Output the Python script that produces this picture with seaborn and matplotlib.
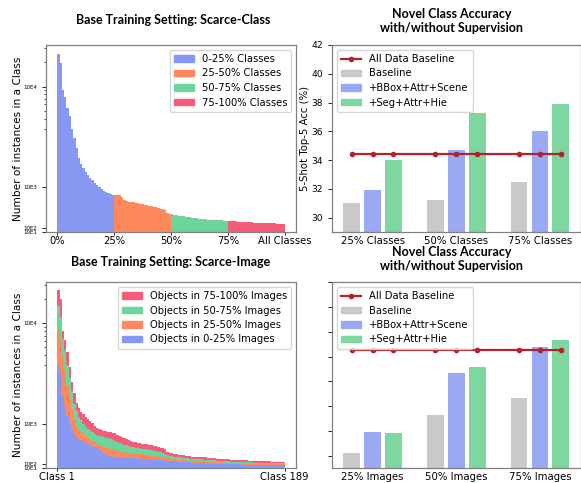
import numpy as np
import pandas as pd
import matplotlib
matplotlib.use("Agg")
import matplotlib.pyplot as plt
import matplotlib.ticker as mticker
from matplotlib.patches import Patch
from matplotlib.lines import Line2D
import seaborn as sns

# ---- top-left: instances per class (sorted), split by class quartile ----
q1_counts = [25800, 19800, 9000, 7400, 5400, 4300, 3000, 2300, 1880, 1660, 1520, 1430, 1345,
             1280, 1210, 1160, 1100, 1050, 1005, 960, 925, 890, 865, 845, 830]
q2_counts = [828, 828, 828, 777, 716, 700, 679, 671, 664, 655, 643, 634, 626,
             612, 598, 581, 576, 560, 553, 538, 522, 508, 486, 432, 410]
q3_counts = [396, 380, 374, 365, 358, 351, 342, 336, 329, 320, 313, 306, 297,
             292, 292, 284, 275, 275, 268, 268, 268, 263, 263, 254, 254]
q4_counts = [254, 247, 247, 239, 230, 230, 223, 223, 218, 218, 218, 209, 209,
             209, 202, 202, 202, 194, 194, 194, 194, 185, 185, 185, 185]
quartile_labels = ["0-25% Classes", "25-50% Classes", "50-75% Classes", "75-100% Classes"]
class_ticklabels = ["0%", "25%", "50%", "75%", "All Classes"]

# ---- bottom-left: cumulative instances per class by image quartile ----
img_upto25 = [3010, 2370, 1615, 1392, 1170, 985, 859, 756, 689, 652,
              622, 600, 570, 548, 526, 496, 474, 444, 415, 363,
              326, 296, 281, 274, 267, 259, 252, 252, 244, 237,
              230, 230, 222, 222, 215, 215, 207, 207, 200, 200,
              193, 193, 185, 185, 178, 178, 170, 170, 163, 156,
              156, 148, 148, 141, 141, 133, 133, 126, 126, 119,
              119, 119, 111, 111, 111, 104, 104, 104, 96, 96,
              96, 96, 89, 89, 89, 89, 81, 81, 81, 81,
              81, 74, 74, 74, 74, 74, 74, 67, 67, 67,
              67, 67, 67, 67, 67, 59, 59, 59, 59, 59]
img_upto50 = [8530, 6420, 3810, 2610, 1874, 1578, 1296, 1081, 948, 867,
              815, 763, 711, 667, 637, 607, 585, 556, 526, 489,
              474, 459, 452, 437, 422, 407, 385, 370, 356, 356,
              348, 341, 341, 333, 333, 326, 319, 311, 304, 296,
              289, 281, 274, 267, 259, 252, 244, 237, 215, 207,
              200, 193, 185, 178, 178, 170, 170, 163, 163, 156,
              156, 156, 148, 148, 148, 141, 141, 133, 133, 133,
              126, 126, 126, 119, 119, 119, 111, 111, 111, 104,
              104, 104, 104, 96, 96, 96, 96, 96, 89, 89,
              89, 89, 89, 89, 81, 81, 81, 81, 81, 81]
img_upto75 = [16550, 11880, 6420, 4610, 3010, 2060, 1726, 1452, 1281, 1156,
              1081, 1000, 933, 889, 852, 807, 770, 748, 726, 718,
              696, 681, 674, 652, 630, 615, 585, 556, 541, 526,
              511, 496, 481, 467, 459, 452, 444, 437, 430, 422,
              415, 407, 393, 385, 370, 356, 341, 326, 289, 274,
              267, 259, 252, 244, 237, 230, 222, 215, 207, 207,
              200, 200, 193, 193, 185, 185, 178, 178, 170, 170,
              163, 163, 156, 156, 148, 148, 141, 141, 141, 133,
              133, 133, 126, 126, 126, 126, 119, 119, 119, 119,
              111, 111, 111, 111, 111, 104, 104, 104, 104, 104]
img_total = [26580, 20000, 8130, 6120, 4390, 2870, 1948, 1689, 1467, 1341,
             1267, 1207, 1156, 1111, 1059, 1007, 956, 911, 881, 867,
             844, 837, 822, 807, 793, 778, 748, 718, 696, 674,
             652, 630, 607, 585, 578, 570, 556, 548, 541, 533,
             526, 519, 504, 489, 474, 459, 444, 422, 370, 348,
             333, 326, 319, 304, 296, 289, 281, 274, 267, 259,
             259, 252, 252, 244, 237, 237, 230, 222, 222, 215,
             207, 207, 200, 200, 193, 193, 185, 185, 185, 178,
             178, 170, 170, 170, 163, 163, 163, 156, 156, 156,
             148, 148, 148, 148, 141, 141, 141, 133, 133, 133]
image_labels = ["Objects in 0-25% Images", "Objects in 25-50% Images",
                "Objects in 50-75% Images", "Objects in 75-100% Images"]
image_ticklabels = ["Class 1", "Class 189"]

log_ticks = [10, 100, 1000, 10000]
log_ticklabels = ["10E1", "10E2", "10E3", "10E4"]

# ---- right: 5-shot top-5 novel class accuracy ----
methods = ["Baseline", "+BBox+Attr+Scene", "+Seg+Attr+Hie"]
class_settings = ["25% Classes", "50% Classes", "75% Classes"]
class_baseline = [31.0, 31.2, 32.5]
class_bbox = [31.9, 34.7, 36.0]
class_seg = [34.0, 37.3, 37.9]
class_all_data = 34.45
image_settings = ["25% Images", "50% Images", "75% Images"]
image_baseline = [30.2, 33.3, 34.7]
image_bbox = [31.9, 36.7, 38.8]
image_seg = [31.85, 37.15, 39.35]
image_all_data = 38.5

quartile_colors = ["#8798F2", "#FF895C", "#6DD49B", "#F45C7A"]
method_colors = ["#C9C9C9", "#9BA9F3", "#7ED6A1"]
line_color = "#B2222E"

plt.rcParams["font.family"] = ["DejaVu Sans"]
plt.rcParams["axes.edgecolor"] = "#808080"
plt.rcParams["axes.linewidth"] = 0.9
TITLE_FONT = dict(family="Lato", weight="bold", size=9)
LEGEND_KW = dict(fontsize=7.2, labelspacing=0.45, handleheight=0.6, borderpad=0.4)


def style_count_axis(ax):
    ax.set_yscale("symlog", linthresh=2000, linscale=1)
    ax.set_ylim(0, 33000)
    ax.set_yticks(log_ticks)
    ax.set_yticklabels(log_ticklabels)
    ax.yaxis.set_minor_locator(mticker.FixedLocator([3000, 4000, 5000, 6000, 7000, 8000, 9000, 20000, 30000]))
    ax.yaxis.set_minor_formatter(mticker.NullFormatter())
    ax.tick_params(axis="y", labelsize=4, length=3, width=0.6)
    ax.tick_params(axis="y", which="minor", length=1.5, width=0.5)
    ax.tick_params(axis="x", labelsize=7.2, length=2.5, width=0.6, pad=0.5)
    ax.set_ylabel("Number of instances in a Class", fontsize=7.6, labelpad=0)
    ax.set_xlabel("")


def draw_scarce_class(ax):
    counts = q1_counts + q2_counts + q3_counts + q4_counts
    sizes = [len(q1_counts), len(q2_counts), len(q3_counts), len(q4_counts)]
    df = pd.DataFrame({"cls": np.arange(len(counts)), "count": counts,
                       "group": np.repeat(quartile_labels, sizes)})
    sns.barplot(data=df, x="cls", y="count", hue="group", hue_order=quartile_labels,
                palette=quartile_colors, dodge=False, width=1.0, linewidth=0,
                saturation=1, errorbar=None, legend=False, ax=ax)
    n = len(counts)
    edges = np.cumsum([0] + sizes) - 0.5
    ax.set_xticks(edges)
    ax.set_xticklabels(class_ticklabels)
    ax.set_xlim(-0.5 - 0.05 * n, n - 0.5 + 0.05 * n)
    style_count_axis(ax)
    handles = [Patch(color=c, label=l) for c, l in zip(quartile_colors, quartile_labels)]
    ax.legend(handles=handles, loc="upper right", **LEGEND_KW)


def draw_scarce_image(ax):
    layers = [img_total, img_upto75, img_upto50, img_upto25]
    colors = quartile_colors[::-1]
    n = len(img_total)
    for vals, col in zip(layers, colors):
        sns.barplot(x=np.arange(n), y=vals, color=col, width=1.0, linewidth=0,
                    saturation=1, errorbar=None, ax=ax)
    ax.set_xticks([-0.5, n - 0.5])
    ax.set_xticklabels(image_ticklabels)
    ax.set_xlim(-0.5 - 0.05 * n, n - 0.5 + 0.05 * n)
    style_count_axis(ax)
    handles = [Patch(color=c, label=l) for c, l in zip(colors, image_labels[::-1])]
    ax.legend(handles=handles, loc="upper right", **LEGEND_KW)


def draw_accuracy(ax, settings, series, all_data, ylim, show_labels):
    rows = []
    for m, vals in zip(methods, series):
        for s, v in zip(settings, vals):
            rows.append({"setting": s, "acc": v, "method": m})
    df = pd.DataFrame(rows)
    sns.barplot(data=df, x="setting", y="acc", hue="method", hue_order=methods,
                palette=method_colors, width=0.75, gap=0.2, linewidth=0,
                saturation=1, errorbar=None, legend=False, ax=ax)
    xs = sorted(p.get_x() + p.get_width() / 2 for p in ax.patches)
    ax.plot(xs, [all_data] * len(xs), color=line_color, lw=1.6, marker="o", ms=3, zorder=5)
    ax.set_ylim(*ylim)
    ax.set_xlim(-0.485, 2.485)
    ax.set_yticks(np.arange(30, ylim[1] + 0.1, 2))
    ax.tick_params(axis="y", labelsize=6.6, length=3, width=0.6, labelleft=show_labels)
    ax.tick_params(axis="x", labelsize=7.3, length=0, pad=3)
    ax.set_xlabel("")
    if show_labels:
        ax.set_ylabel("5-Shot Top-5 Acc (%)", fontsize=7.3, labelpad=1)
    else:
        ax.set_ylabel("")
    handles = [Line2D([0], [0], color=line_color, lw=1.6, marker="o", ms=3, label="All Data Baseline")]
    handles += [Patch(color=c, label=m) for c, m in zip(method_colors, methods)]
    ax.legend(handles=handles, loc="upper left", **LEGEND_KW)


W, H = 581, 483
fig = plt.figure(figsize=(W / 100, H / 100), dpi=100)


def add_axes(left, top, right, bottom):
    return fig.add_axes([left / W, 1 - bottom / H, (right - left) / W, (bottom - top) / H])


ax_tl = add_axes(46, 45, 296, 232)
ax_tr = add_axes(332, 45, 580.5, 232)
ax_bl = add_axes(46, 282, 296, 468)
ax_br = add_axes(332, 282, 580.5, 468.3)

draw_scarce_class(ax_tl)
draw_scarce_image(ax_bl)
draw_accuracy(ax_tr, class_settings, [class_baseline, class_bbox, class_seg],
              class_all_data, (29, 42), True)
draw_accuracy(ax_br, image_settings, [image_baseline, image_bbox, image_seg],
              image_all_data, (29, 44), False)

fig.text(173 / W, 1 - 20.5 / H, "Base Training Setting: Scarce-Class", ha="center", va="center", **TITLE_FONT)
fig.text(451.5 / W, 1 - 21 / H, "Novel Class Accuracy\nwith/without Supervision", ha="center", va="center",
         linespacing=1.15, **TITLE_FONT)
fig.text(171 / W, 1 - 262 / H, "Base Training Setting: Scarce-Image", ha="center", va="center", **TITLE_FONT)
fig.text(451.5 / W, 1 - 259 / H, "Novel Class Accuracy\nwith/without Supervision", ha="center", va="center",
         linespacing=1.15, **TITLE_FONT)

fig.savefig("out.png", dpi=100)
